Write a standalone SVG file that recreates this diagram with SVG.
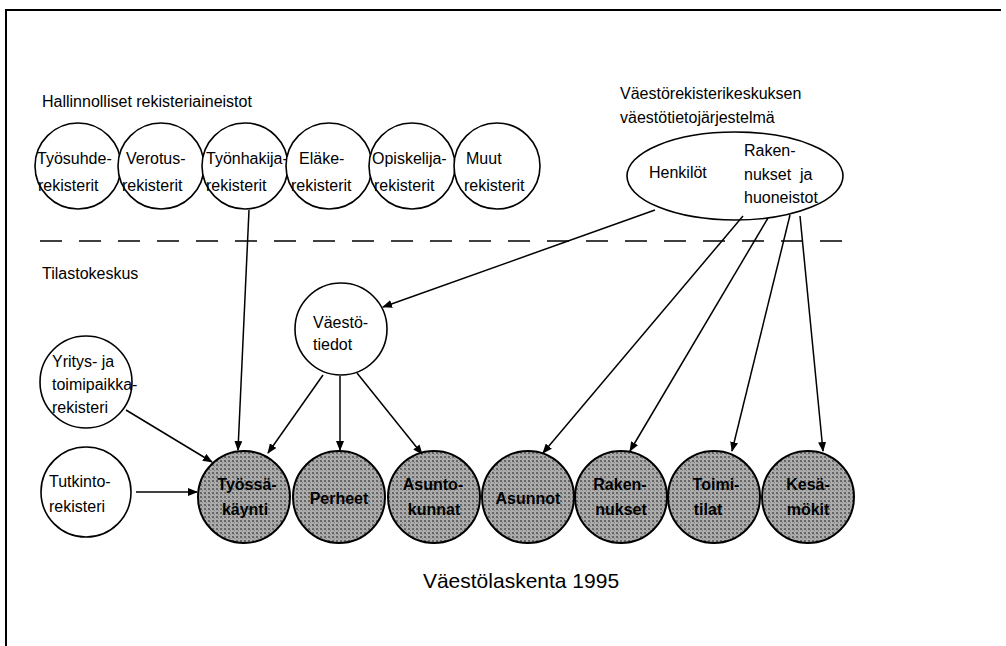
<svg xmlns="http://www.w3.org/2000/svg" width="1006" height="646" viewBox="0 0 1006 646">
<style>
text{font-family:"Liberation Sans",Arial,sans-serif;font-size:16px;fill:#000}
.c{fill:#fff;stroke:#000;stroke-width:1.6}
.g{stroke:#000;stroke-width:2;fill:url(#dots)}
.b{font-weight:bold;font-size:16px}
.a{stroke:#000;stroke-width:1.5;fill:none;marker-end:url(#ah)}
.m{text-anchor:middle}
</style>
<defs>
<marker id="ah" markerWidth="10" markerHeight="8" refX="9" refY="4" orient="auto" markerUnits="userSpaceOnUse">
<path d="M0,0 L10,4 L0,8 Z" fill="#000"/>
</marker>
<pattern id="dots" width="4" height="4" patternUnits="userSpaceOnUse">
<rect width="4" height="4" fill="#acacac"/>
<rect x="0" y="0" width="2" height="2" fill="#666"/>
<rect x="2" y="2" width="1" height="1" fill="#808080"/>
</pattern>
</defs>
<path d="M6,646 V10 H1001" fill="none" stroke="#000" stroke-width="2"/>
<text x="42" y="107">Hallinnolliset rekisteriaineistot</text>
<text x="620" y="99">Väestörekisterikeskuksen</text>
<text x="620" y="123">väestötietojärjestelmä</text>
<text x="42" y="279">Tilastokeskus</text>
<line x1="40" y1="241" x2="842" y2="241" stroke="#000" stroke-width="1.5" stroke-dasharray="22,17"/>

<g id="tyosuhde"><circle class="c" cx="78" cy="166" r="43"/><text x="37" y="164">Työsuhde-</text><text x="38" y="191">rekisterit</text></g>
<g id="verotus"><circle class="c" cx="161" cy="166" r="43"/><text x="126" y="164">Verotus-</text><text x="122" y="191">rekisterit</text></g>
<g id="tyonhakija"><circle class="c" cx="245" cy="166" r="43"/><text x="206" y="164">Työnhakija-</text><text x="206" y="191">rekisterit</text></g>
<g id="elake"><circle class="c" cx="329" cy="166" r="43"/><text x="299" y="164">Eläke-</text><text x="291" y="191">rekisterit</text></g>
<g id="opiskelija"><circle class="c" cx="412" cy="166" r="43"/><text x="372" y="164">Opiskelija-</text><text x="374" y="191">rekisterit</text></g>
<g id="muut"><circle class="c" cx="497" cy="166" r="43"/><text x="466" y="164">Muut</text><text x="464" y="191">rekisterit</text></g>

<g id="vrk"><ellipse class="c" cx="735" cy="176" rx="108" ry="44"/><text x="649" y="178">Henkilöt</text><text x="744" y="156">Raken-</text><text x="744" y="180">nukset&#160;&#160;ja</text><text x="744" y="203">huoneistot</text></g>

<g id="vaestotiedot"><circle class="c" cx="341" cy="329" r="46"/><text x="313" y="328">Väestö-</text><text x="313" y="350">tiedot</text></g>
<g id="yritys"><circle class="c" cx="86" cy="382" r="46"/><text x="52" y="367">Yritys- ja</text><text x="52" y="390">toimipaikka-</text><text x="52" y="413">rekisteri</text></g>
<g id="tutkinto"><circle class="c" cx="86" cy="492" r="45"/><text x="49" y="487">Tutkinto-</text><text x="49" y="512">rekisteri</text></g>

<g id="tyossakaynti"><circle class="g" cx="244" cy="497" r="46"/><text class="b m" x="247" y="490">Työssä-</text><text class="b m" x="245" y="515">käynti</text></g>
<g id="perheet"><circle class="g" cx="339" cy="497" r="46"/><text class="b m" x="339" y="504">Perheet</text></g>
<g id="asuntokunnat"><circle class="g" cx="434" cy="497" r="46"/><text class="b m" x="433" y="490">Asunto-</text><text class="b m" x="434" y="515">kunnat</text></g>
<g id="asunnot"><circle class="g" cx="528" cy="497" r="46"/><text class="b m" x="528" y="504">Asunnot</text></g>
<g id="rakennukset"><circle class="g" cx="621" cy="497" r="46"/><text class="b m" x="620" y="490">Raken-</text><text class="b m" x="621" y="515">nukset</text></g>
<g id="toimitilat"><circle class="g" cx="714" cy="497" r="46"/><text class="b m" x="716" y="490">Toimi-</text><text class="b m" x="708" y="515">tilat</text></g>
<g id="kesamokit"><circle class="g" cx="808" cy="497" r="46"/><text class="b m" x="808" y="490">Kesä-</text><text class="b m" x="808" y="515">mökit</text></g>

<text class="m" x="521" y="588" style="font-size:21px">Väestölaskenta 1995</text>

<g id="connectors">
<path class="a" d="M249,210 L238,450"/>
<path class="a" d="M655,210 L383,307"/>
<path class="a" d="M323,375 L268,453"/>
<path class="a" d="M340,376 L340,450"/>
<path class="a" d="M357,373 L422,454"/>
<path class="a" d="M126,410 L212,462"/>
<path class="a" d="M136,492 L197,492"/>
<path class="a" d="M743,216 L543,453"/>
<path class="a" d="M768,218 L630,451"/>
<path class="a" d="M790,215 L732,451"/>
<path class="a" d="M800,216 L823,451"/>
</g>
</svg>
